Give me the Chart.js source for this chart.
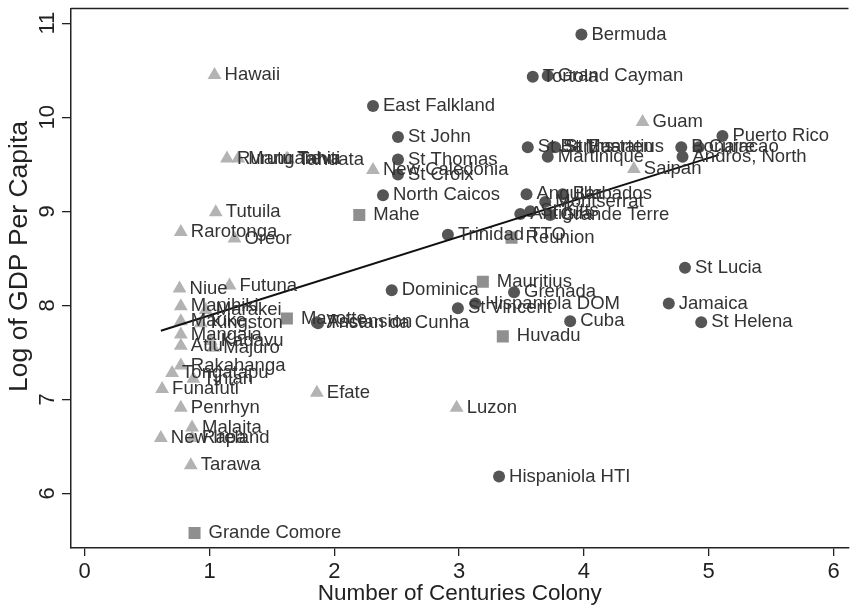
<!DOCTYPE html>
<html>
<head>
<meta charset="utf-8">
<script src="https://cdn.jsdelivr.net/npm/chart.js@4"></script>
<style>
html, body { margin: 0; padding: 0; background: #fff; overflow: hidden; }
</style>
</head>
<body>
<canvas id="myChart" width="857" height="607"></canvas>
<script>
// Caribbean / Atlantic islands (dark circles)
const atlNames = ['Bermuda','Tortola','Grand Cayman','East Falkland','St John','St Thomas','St Croix','North Caicos',
  'Trinidad TTO','St Barths','St Maarten','St Eustatius','Martinique','Bonaire','Curacao','Andros, North','Puerto Rico',
  'Anguilla','Barbados','Montserrat','St Kitts','Grande Terre','Antigua','Dominica','Ascension','Tristan da Cunha',
  'St Vincent','Hispaniola DOM','Grenada','Cuba','St Lucia','Jamaica','St Helena','Hispaniola HTI'];
const atlX = [3.98,3.59,3.71,2.31,2.51,2.51,2.51,2.39,
  2.91,3.55,3.75,3.77,3.71,4.78,4.92,4.79,5.11,
  3.54,3.83,3.69,3.57,3.73,3.49,2.46,1.86,1.87,
  2.99,3.13,3.44,3.89,4.81,4.68,4.94,3.32];
const atlY = [10.88,10.43,10.44,10.12,9.79,9.55,9.39,9.17,
  8.75,9.68,9.68,9.68,9.58,9.68,9.68,9.58,9.80,
  9.18,9.18,9.10,9.00,8.96,8.97,8.16,7.82,7.81,
  7.97,8.02,8.14,7.83,8.40,8.02,7.82,6.18];

// Pacific islands (light triangles)
const pacNames = ['Hawaii','Guam','Saipan','Rurutu','Mangareva','Tahiti','Tahuata','New Caledonia','Tutuila',
  'Rarotonga','Oreor','Niue','Futuna','Manihiki','Marakei','Mauke','Kingston','Mangaia','Atiu','Kadavu','Majuro',
  'Rakahanga','Tongatapu','Tinian','Funafuti','Penrhyn','Malaita','New Ireland','Rapa','Tarawa','Efate','Luzon'];
const pacX = [1.04,4.47,4.40,1.14,1.23,1.62,1.63,2.31,1.05,
  0.77,1.20,0.76,1.16,0.77,0.97,0.77,0.93,0.77,0.77,1.01,1.03,
  0.77,0.70,0.87,0.62,0.77,0.86,0.61,0.86,0.85,1.86,2.98];
const pacY = [10.45,9.95,9.45,9.56,9.56,9.56,9.55,9.44,8.99,
  8.78,8.71,8.18,8.21,7.99,7.95,7.83,7.81,7.69,7.57,7.62,7.55,
  7.36,7.28,7.22,7.11,6.91,6.70,6.59,6.59,6.30,7.07,6.91];

// Indian Ocean islands (grey squares)
const indNames = ['Mahe','Reunion','Mauritius','Mayotte','Huvadu','Grande Comore'];
const indX = [2.20,3.42,3.19,1.62,3.35,0.88];
const indY = [8.96,8.72,8.25,7.86,7.67,5.58];

// fitted line end points
const fitX = [0.61, 5.08];
const fitY = [7.73, 9.60];

const xTicks = [0,1,2,3,4,5,6];
const yTicks = [6,7,8,9,10,11];
const xTitle = 'Number of Centuries Colony';
const yTitle = 'Log of GDP Per Capita';

const FONT = '"Liberation Sans", Arial, Helvetica, sans-serif';

function pts(xs, ys){
    let arr = [];
    for(let i=0;i<xs.length;i++){
        arr.push({x: xs[i], y: ys[i]});
    }
    return arr;
}

// writes each island name to the right of its marker
const pointLabels = {
    id: 'pointLabels',
    afterDatasetsDraw(chart){
        const ctx = chart.ctx;
        ctx.save();
        ctx.font = '18.5px ' + FONT;
        ctx.fillStyle = '#333';
        ctx.textBaseline = 'middle';
        ctx.textAlign = 'left';
        chart.data.datasets.forEach((ds, di) => {
            if(!ds.names) return;
            const meta = chart.getDatasetMeta(di);
            meta.data.forEach((pt, i) => {
                ctx.fillText(ds.names[i], pt.x + ds.labelGap, pt.y);
            });
        });
        ctx.restore();
    }
};

// top edge of the plot box + the vertical axis title (sits a little above centre in the original)
const frameExtras = {
    id: 'frameExtras',
    afterDraw(chart){
        const a = chart.chartArea;
        const ctx = chart.ctx;
        ctx.save();
        ctx.strokeStyle = '#222';
        ctx.lineWidth = 1.5;
        ctx.beginPath();
        ctx.moveTo(a.left, a.top);
        ctx.lineTo(a.right, a.top);
        ctx.stroke();

        const yMid = chart.scales.y.getPixelForValue(8.52);
        ctx.translate(20, yMid);
        ctx.rotate(-Math.PI / 2);
        ctx.font = '26.5px ' + FONT;
        ctx.fillStyle = '#222';
        ctx.textAlign = 'center';
        ctx.textBaseline = 'middle';
        ctx.fillText(yTitle, 0, 0);
        ctx.restore();
    }
};

const ctx = document.getElementById('myChart').getContext('2d');

const config = {
    type: 'scatter',
    data: {
        datasets: [
            {
                label: 'Fit',
                data: pts(fitX, fitY),
                showLine: true,
                borderColor: '#111',
                borderWidth: 2,
                pointRadius: 0
            },
            {
                label: 'Atlantic',
                names: atlNames,
                labelGap: 10,
                data: pts(atlX, atlY),
                pointStyle: 'circle',
                pointRadius: 6,
                backgroundColor: '#555',
                borderWidth: 0
            },
            {
                label: 'Pacific',
                names: pacNames,
                labelGap: 10,
                data: pts(pacX, pacY),
                pointStyle: 'triangle',
                pointRadius: 8,
                backgroundColor: '#b3b3b3',
                borderWidth: 0
            },
            {
                label: 'Indian',
                names: indNames,
                labelGap: 14,
                data: pts(indX, indY),
                pointStyle: 'rect',
                pointRadius: 8.5,
                backgroundColor: '#8f8f8f',
                borderWidth: 0
            }
        ]
    },
    options: {
        responsive: false,
        animation: false,
        layout: { padding: { top: 6, left: 0, right: 0, bottom: 0 } },
        plugins: {
            legend: { display: false },
            tooltip: { enabled: false }
        },
        scales: {
            x: {
                type: 'linear',
                min: -0.11,
                max: 6.12,
                afterBuildTicks: s => { s.ticks = xTicks.map(v => ({value: v})); },
                afterFit: s => { s.height = 59; s.paddingLeft = 0; s.paddingRight = 0; },
                grid: { drawOnChartArea: false, drawTicks: true, tickLength: 8, color: '#222', lineWidth: 1.3 },
                border: { display: true, color: '#222', width: 1.5 },
                ticks: { color: '#222', font: { family: FONT, size: 22 }, padding: 3, maxRotation: 0 },
                title: { display: true, text: xTitle, color: '#222',
                    font: { family: FONT, size: 22.5 }, padding: { top: 0, bottom: 0 } }
            },
            y: {
                type: 'linear',
                min: 5.42,
                max: 11.156,
                afterBuildTicks: s => { s.ticks = yTicks.map(v => ({value: v})); },
                afterFit: s => { s.width = 71; s.paddingTop = 0; s.paddingBottom = 0; },
                grid: { drawOnChartArea: false, drawTicks: true, tickLength: 9, color: '#222', lineWidth: 1.3 },
                border: { display: true, color: '#222', width: 1.5 },
                ticks: { color: '#222', font: { family: FONT, size: 22 }, padding: 2,
                    minRotation: 90, maxRotation: 90, crossAlign: 'center' },
                title: { display: false }
            }
        }
    },
    plugins: [pointLabels, frameExtras]
};

const myChart = new Chart(ctx, config);
</script>
</body>
</html>
